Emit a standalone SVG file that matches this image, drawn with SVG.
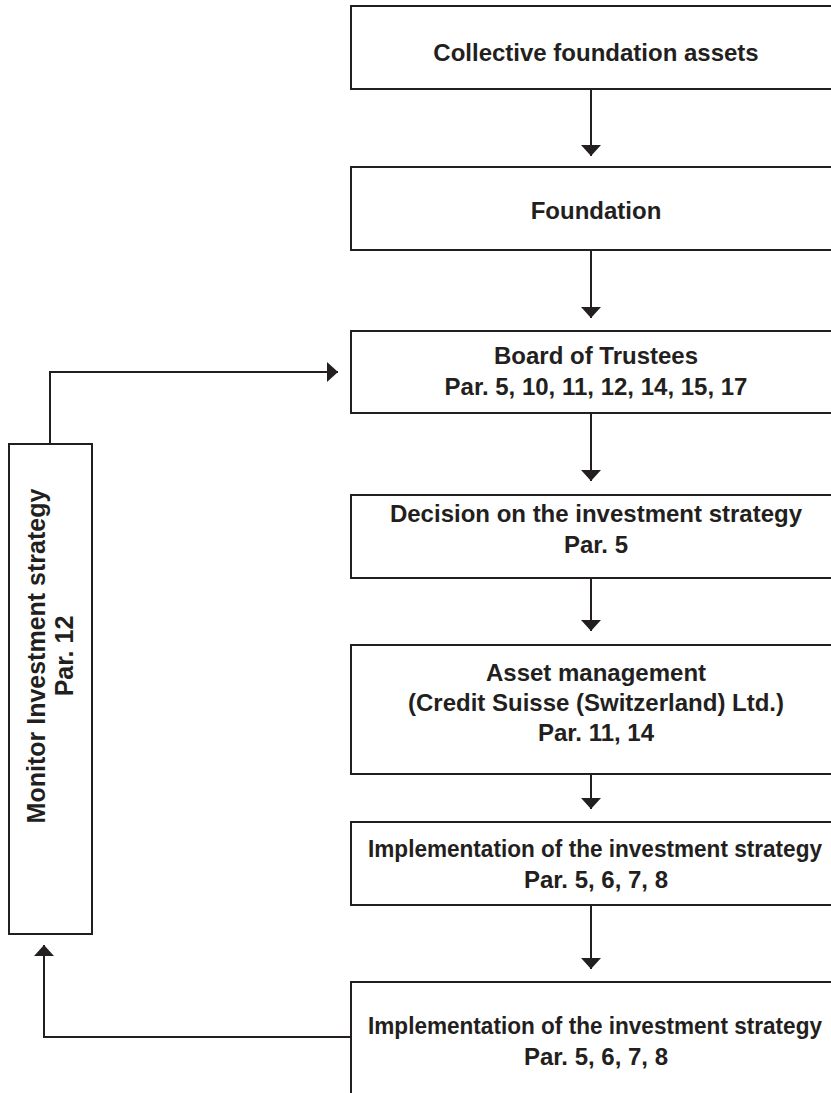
<svg xmlns="http://www.w3.org/2000/svg" width="831" height="1093" viewBox="0 0 831 1093">
<style>
.box{fill:#ffffff;stroke:#231f20;stroke-width:2}
.lbl{font-family:"Liberation Sans",Arial,Helvetica,sans-serif;font-weight:bold;font-size:24px;fill:#231f20;text-anchor:middle}
.lbl.impl{font-size:23px}
.conn{fill:none;stroke:#231f20;stroke-width:2;marker-end:url(#ah)}
</style>
<defs>
<marker id="ah" markerUnits="userSpaceOnUse" markerWidth="12" markerHeight="21" refX="11" refY="10" orient="auto" viewBox="0 0 12 21">
<path d="M0,0 L11,10 L0,20 z" fill="#231f20"/>
</marker>
</defs>
<rect width="831" height="1093" fill="#ffffff"/>
<g id="connectors">
<path class="conn" d="M591,89 V156"/>
<path class="conn" d="M591,250 V318"/>
<path class="conn" d="M591,413 V481"/>
<path class="conn" d="M591,578 V631"/>
<path class="conn" d="M591,774 V809"/>
<path class="conn" d="M591,905 V969"/>
<path class="conn" d="M50,444 V372 H338"/>
<path class="conn" d="M351,1037 H44 V945"/>
</g>
<g id="n1"><rect class="box" x="351" y="6" width="520" height="83"/><text class="lbl" x="596" y="61">Collective foundation assets</text></g>
<g id="n2"><rect class="box" x="351" y="167" width="520" height="83"/><text class="lbl" x="596" y="219">Foundation</text></g>
<g id="n3"><rect class="box" x="351" y="331" width="520" height="82"/><text class="lbl" x="596" y="364">Board of Trustees</text><text class="lbl" x="596" y="395">Par. 5, 10, 11, 12, 14, 15, 17</text></g>
<g id="n4"><rect class="box" x="351" y="495" width="520" height="83"/><text class="lbl" x="596" y="522">Decision on the investment strategy</text><text class="lbl" x="596" y="553">Par. 5</text></g>
<g id="n5"><rect class="box" x="351" y="645" width="520" height="129"/><text class="lbl" x="596" y="681">Asset management</text><text class="lbl" x="596" y="711">(Credit Suisse (Switzerland) Ltd.)</text><text class="lbl" x="596" y="741">Par. 11, 14</text></g>
<g id="n6"><rect class="box" x="351" y="822" width="520" height="83"/><text class="lbl impl" x="595" y="857" textLength="454" lengthAdjust="spacingAndGlyphs">Implementation of the investment strategy</text><text class="lbl" x="596" y="888">Par. 5, 6, 7, 8</text></g>
<g id="n7"><rect class="box" x="351" y="982" width="520" height="200"/><text class="lbl impl" x="595" y="1034" textLength="454" lengthAdjust="spacingAndGlyphs">Implementation of the investment strategy</text><text class="lbl" x="596" y="1065">Par. 5, 6, 7, 8</text></g>
<g id="monitor"><rect class="box" x="9" y="444" width="83" height="490"/><text class="lbl" style="font-size:25px" transform="translate(45,656) rotate(-90)">Monitor Investment strategy</text><text class="lbl" style="font-size:25px" transform="translate(73,656) rotate(-90)">Par. 12</text></g>
</svg>
